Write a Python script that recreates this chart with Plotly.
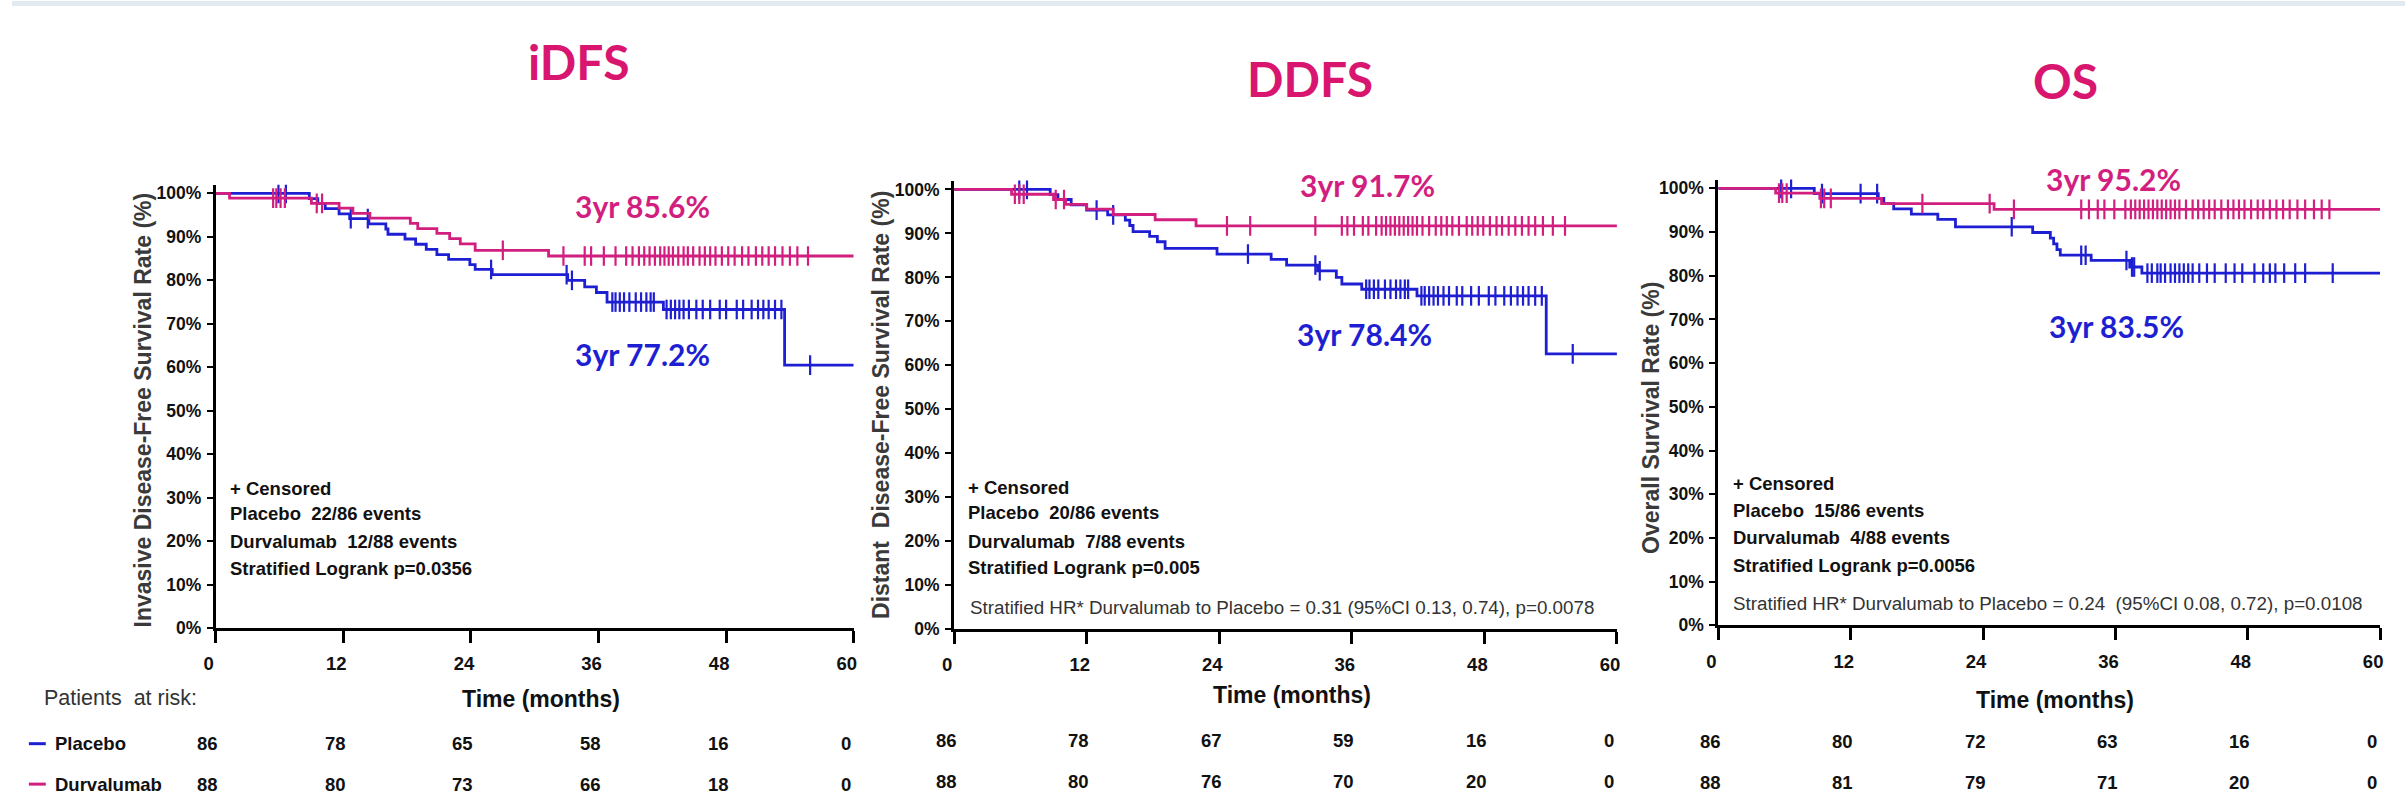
import plotly.graph_objects as go

W, H = 2408, 803
BLUE = "#1e1ed2"
PINK = "#d21f7f"
TITLE_PINK = "#d8166f"
NARROW = "Liberation Sans, Arial, sans-serif"
ARIAL = "Liberation Sans, Arial, sans-serif"
CAL = "Lato, Carlito, Calibri, sans-serif"

# ---------------- data ----------------
panel_titles = ["iDFS", "DDFS", "OS"]
y_titles = ["Invasive Disease-Free Survival Rate (%)",
            "Distant  Disease-Free Survival Rate (%)",
            "Overall Survival Rate (%)"]
x_ticks = [0, 12, 24, 36, 48, 60]
y_ticks = [0, 10, 20, 30, 40, 50, 60, 70, 80, 90, 100]

# iDFS
idfs_pla_t = [0, 8.8, 9.6, 10.3, 11.6, 12.6, 14.4, 16.0, 16.2, 17.8, 18.8, 19.8, 20.8, 21.9, 23.9, 24.4, 26.0, 33.1, 34.7, 35.8, 36.8, 42.1, 53.5]
idfs_pla_s = [100, 98.8, 97.7, 96.5, 95.3, 94.2, 93.0, 91.8, 90.6, 89.5, 88.3, 87.1, 85.9, 84.8, 83.6, 82.5, 81.3, 80.0, 78.5, 77.2, 75.0, 73.3, 60.5]
idfs_dur_t = [0, 1.3, 9.0, 11.6, 12.9, 14.5, 18.3, 19.0, 20.8, 22.0, 23.0, 24.4, 31.3]
idfs_dur_s = [100, 98.9, 97.7, 96.6, 95.4, 94.3, 93.1, 91.9, 90.8, 89.6, 88.4, 86.9, 85.6]
idfs_pla_cens = [5.9, 6.6, 12.7, 14.3, 25.9, 33.0, 33.5, 37.3, 37.6, 38.0, 38.4, 38.9, 39.5, 40.0, 40.5, 40.9, 41.2,
                 42.4, 42.8, 43.2, 43.6, 44.0, 44.5, 45.2, 45.8, 46.5, 47.4, 48.0, 49.0, 49.6, 50.4, 51.0, 51.5,
                 52.0, 52.6, 53.2, 55.9]
idfs_dur_cens = [5.4, 5.7, 6.1, 6.5, 9.5, 10.0, 27.0, 32.7, 34.7, 35.3, 36.5, 37.6, 38.6, 39.2, 39.8, 40.3, 40.8,
                 41.3, 41.8, 42.2, 42.6, 43.0, 43.5, 44.0, 44.4, 44.9, 45.5, 46.0, 46.5, 47.0, 47.6, 48.2, 48.8,
                 49.5, 50.1, 50.8, 51.4, 52.0, 52.6, 53.3, 54.0, 54.7, 55.7]

# DDFS
ddfs_pla_t = [0, 8.7, 9.4, 10.6, 12.0, 13.9, 15.5, 15.9, 16.2, 17.7, 18.4, 19.1, 23.8, 28.7, 30.1, 32.9, 34.6, 35.1, 36.9, 41.9, 53.6]
ddfs_pla_s = [100, 98.8, 97.7, 96.5, 95.3, 94.2, 93.0, 91.8, 90.4, 89.3, 88.1, 86.6, 85.3, 84.1, 82.8, 81.5, 80.0, 78.5, 77.3, 75.8, 62.6]
ddfs_dur_t = [0, 5.2, 9.0, 10.1, 12.0, 14.4, 18.2, 21.9]
ddfs_dur_s = [100, 98.9, 97.7, 96.6, 95.5, 94.3, 93.1, 91.7]
ddfs_pla_cens = [5.9, 6.6, 12.9, 14.4, 26.6, 32.7, 33.1, 37.3, 37.6, 38.0, 38.4, 39.0, 39.5, 40.0, 40.4, 40.8, 41.1,
                 42.3, 42.6, 43.0, 43.4, 43.8, 44.3, 44.8, 45.5, 46.0, 46.8, 47.5, 48.4, 49.0, 49.8, 50.4, 51.0,
                 51.5, 52.0, 52.6, 53.2, 56.0]
ddfs_dur_cens = [5.5, 5.9, 6.3, 9.2, 9.95, 24.7, 26.8, 32.7, 35.1, 35.6, 36.2, 37.0, 37.5, 38.2, 38.7, 39.1, 39.5,
                 39.9, 40.3, 40.7, 41.1, 41.5, 41.9, 42.4, 43.0, 43.6, 44.1, 44.6, 45.1, 45.7, 46.4, 46.9, 47.4,
                 47.9, 48.5, 49.1, 49.6, 50.2, 50.8, 51.4, 52.0, 52.6, 53.3, 54.2, 55.3]

# OS
os_pla_t = [0, 8.7, 14.5, 15.0, 15.9, 17.5, 19.9, 21.5, 28.5, 30.1, 30.4, 30.7, 31.0, 33.8, 37.3, 38.4]
os_pla_s = [100, 98.8, 97.7, 96.5, 95.3, 94.1, 92.9, 91.2, 89.9, 88.6, 87.3, 86.0, 84.7, 83.5, 82.0, 80.6]
os_dur_t = [0, 5.2, 9.2, 14.8, 25.0]
os_dur_s = [100, 98.9, 97.7, 96.5, 95.2]
os_pla_cens = [5.7, 6.6, 9.4, 12.9, 14.4, 26.6, 32.9, 33.3, 37.0, 37.5, 37.7, 38.9, 39.3, 39.8, 40.1, 40.5, 41.0,
               41.4, 41.8, 42.2, 42.6, 43.0, 43.6, 44.3, 45.0, 46.0, 46.8, 47.5, 48.6, 49.4, 50.0, 50.5, 51.3,
               52.3, 53.2, 55.7]
os_dur_cens = [5.5, 5.8, 6.2, 9.3, 9.6, 10.2, 18.5, 24.6, 26.8, 32.9, 33.6, 34.4, 35.0, 35.9, 36.9, 37.4, 37.8,
               38.2, 38.6, 39.0, 39.4, 39.8, 40.2, 40.6, 41.0, 41.4, 41.8, 42.4, 43.0, 43.5, 44.0, 44.5, 45.0,
               45.6, 46.2, 46.7, 47.2, 47.7, 48.3, 48.9, 49.4, 50.0, 50.6, 51.2, 51.8, 52.5, 53.2, 54.0, 54.7, 55.4]

three_yr_dur = ["3yr 85.6%", "3yr 91.7%", "3yr 95.2%"]
three_yr_pla = ["3yr 77.2%", "3yr 78.4%", "3yr 83.5%"]

stats_lines = [
    ["+ Censored", "Placebo  22/86 events", "Durvalumab  12/88 events", "Stratified Logrank p=0.0356"],
    ["+ Censored", "Placebo  20/86 events", "Durvalumab  7/88 events", "Stratified Logrank p=0.005"],
    ["+ Censored", "Placebo  15/86 events", "Durvalumab  4/88 events", "Stratified Logrank p=0.0056"],
]
hr_lines = [None,
            "Stratified HR* Durvalumab to Placebo = 0.31 (95%CI 0.13, 0.74), p=0.0078",
            "Stratified HR* Durvalumab to Placebo = 0.24&nbsp; (95%CI 0.08, 0.72), p=0.0108"]

risk_times = [0, 12, 24, 36, 48, 60]
idfs_pla_risk = [86, 78, 65, 58, 16, 0]
idfs_dur_risk = [88, 80, 73, 66, 18, 0]
ddfs_pla_risk = [86, 78, 67, 59, 16, 0]
ddfs_dur_risk = [88, 80, 76, 70, 20, 0]
os_pla_risk = [86, 80, 72, 63, 16, 0]
os_dur_risk = [88, 81, 79, 71, 20, 0]

series = [
    (idfs_pla_t, idfs_pla_s, idfs_pla_cens, idfs_dur_t, idfs_dur_s, idfs_dur_cens, idfs_pla_risk, idfs_dur_risk),
    (ddfs_pla_t, ddfs_pla_s, ddfs_pla_cens, ddfs_dur_t, ddfs_dur_s, ddfs_dur_cens, ddfs_pla_risk, ddfs_dur_risk),
    (os_pla_t, os_pla_s, os_pla_cens, os_dur_t, os_dur_s, os_dur_cens, os_pla_risk, os_dur_risk),
]

# ---------------- layout geometry (pixels) ----------------
ax_x = [(205, 847), (948, 1615), (1717, 2383)]
ax_y = [(636, 186.2), (637, 182.1), (633, 181.1)]  # y pixel of 0% and 102%
title_pos = [(570, 61), (1306, 79), (2066, 81)]
dur_lab_pos = [(634, 208), (1364, 187), (2115, 180)]
pla_lab_pos = [(634, 358), (1361, 338), (2118, 330)]
stats_pos = [(217, [494, 520, 548, 575]), (960, [493, 519, 548, 574]), (1730, [489, 517, 544, 572])]
hr_pos = [None, (962, 615), (1730, 611)]
ytitle_pos = [(132, 415), (875, 410), (1649, 423)]
xtitle_pos = [(532, 708), (1288, 704), (2056, 709)]
risk_rows_y = [(753, 794), (750, 791), (751, 792)]


def px(x):
    return x / W


def py(y):
    return 1 - y / H


def step_at(times, levels, t):
    v = levels[0]
    for ti, li in zip(times, levels):
        if ti <= t:
            v = li
    return v


fig = go.Figure()
annotations = []
shapes = []

for i in range(3):
    sfx = "" if i == 0 else str(i + 1)
    xr, yr = "x" + sfx, "y" + sfx
    pt, ps, pc, dt, ds, dc, prisk, drisk = series[i]
    for (tt, ss, cc, col) in [(pt, ps, pc, BLUE), (dt, ds, dc, PINK)]:
        fig.add_trace(go.Scatter(
            x=list(tt) + [60], y=list(ss) + [ss[-1]], mode="lines",
            line=dict(shape="hv", color=col, width=2.8),
            xaxis=xr, yaxis=yr, showlegend=False, hoverinfo="skip"))
        fig.add_trace(go.Scatter(
            x=cc, y=[step_at(tt, ss, c) for c in cc], mode="markers",
            marker=dict(symbol="line-ns", size=14, line=dict(width=2.2, color=col)),
            xaxis=xr, yaxis=yr, showlegend=False, hoverinfo="skip"))

    x0, x1 = ax_x[i]
    y0, y1 = ax_y[i]
    fig.layout["xaxis" + sfx] = dict(
        domain=[px(x0), px(x1)], range=[0, 60], anchor=yr,
        tickvals=x_ticks, ticktext=[str(v) for v in x_ticks],
        showline=True, linecolor="black", linewidth=3, mirror=False,
        ticks="outside", ticklen=12, tickwidth=2.5, tickcolor="black",
        tickfont=dict(family=NARROW, size=18.5, color="#111", weight=700),
        ticklabelshift=-7, ticklabelstandoff=5,
        showgrid=False, zeroline=False, fixedrange=True)
    fig.layout["yaxis" + sfx] = dict(
        domain=[py(y0), py(y1)], range=[0, 102], anchor=xr,
        tickvals=y_ticks, ticktext=[f"{v}%" for v in y_ticks],
        showline=True, linecolor="black", linewidth=3,
        ticks="outside", ticklen=6, tickwidth=2, tickcolor="black",
        tickfont=dict(family=NARROW, size=17.5, color="#111", weight=700),
        ticklabelstandoff=2,
        showgrid=False, zeroline=False, fixedrange=True)

    # panel title
    annotations.append(dict(x=px(title_pos[i][0]), y=py(title_pos[i][1]), xref="paper", yref="paper",
                            text=panel_titles[i], showarrow=False, xanchor="center", yanchor="middle",
                            font=dict(family=CAL, size=48, color=TITLE_PINK, weight=700)))
    # 3yr labels
    annotations.append(dict(x=px(dur_lab_pos[i][0]), y=py(dur_lab_pos[i][1]), xref="paper", yref="paper",
                            text=three_yr_dur[i], showarrow=False, xanchor="center", yanchor="middle",
                            font=dict(family=CAL, size=30, color=PINK, weight=700)))
    annotations.append(dict(x=px(pla_lab_pos[i][0]), y=py(pla_lab_pos[i][1]), xref="paper", yref="paper",
                            text=three_yr_pla[i], showarrow=False, xanchor="center", yanchor="middle",
                            font=dict(family=CAL, size=30, color=BLUE, weight=700)))
    # stats text
    sx, sys_ = stats_pos[i]
    for line, yy in zip(stats_lines[i], sys_):
        annotations.append(dict(x=px(sx), y=py(yy), xref="paper", yref="paper", text=line,
                                showarrow=False, xanchor="left", yanchor="middle",
                                font=dict(family=NARROW, size=18.5, color="#111", weight=700)))
    if hr_lines[i]:
        annotations.append(dict(x=px(hr_pos[i][0]), y=py(hr_pos[i][1]), xref="paper", yref="paper",
                                text=hr_lines[i], showarrow=False, xanchor="left", yanchor="middle",
                                font=dict(family=NARROW, size=18.8, color="#333")))
    # axis titles
    annotations.append(dict(x=px(ytitle_pos[i][0]), y=py(ytitle_pos[i][1]), xref="paper", yref="paper",
                            text=y_titles[i].replace("  ", "&nbsp; "), showarrow=False, textangle=-90,
                            xanchor="center", yanchor="middle",
                            font=dict(family=ARIAL, size=23, color="#3a3a3a", weight=700)))
    annotations.append(dict(x=px(xtitle_pos[i][0]), y=py(xtitle_pos[i][1]), xref="paper", yref="paper",
                            text="Time (months)", showarrow=False, xanchor="center", yanchor="middle",
                            font=dict(family=NARROW, size=23, color="#111", weight=700)))
    # risk table numbers
    for row, yy in zip((prisk, drisk), risk_rows_y[i]):
        for t, n in zip(risk_times, row):
            annotations.append(dict(x=t, y=py(yy), xref=xr, yref="paper", text=str(n),
                                    showarrow=False, xanchor="center", yanchor="middle", xshift=-8,
                                    font=dict(family=NARROW, size=18.5, color="#111", weight=700)))

# risk table labels
annotations.append(dict(x=px(30), y=py(707), xref="paper", yref="paper", text="Patients&nbsp; at risk:",
                        showarrow=False, xanchor="left", yanchor="middle",
                        font=dict(family=NARROW, size=21.5, color="#333")))
annotations.append(dict(x=px(41), y=py(753), xref="paper", yref="paper", text="Placebo",
                        showarrow=False, xanchor="left", yanchor="middle",
                        font=dict(family=NARROW, size=18.5, color="#111", weight=700)))
annotations.append(dict(x=px(41), y=py(794), xref="paper", yref="paper", text="Durvalumab",
                        showarrow=False, xanchor="left", yanchor="middle",
                        font=dict(family=NARROW, size=18.5, color="#111", weight=700)))
shapes.append(dict(type="line", xref="paper", yref="paper", x0=px(17), x1=px(34), y0=py(753), y1=py(753),
                   line=dict(color=BLUE, width=3)))
shapes.append(dict(type="line", xref="paper", yref="paper", x0=px(17), x1=px(34), y0=py(794), y1=py(794),
                   line=dict(color=PINK, width=3)))
# top band
shapes.append(dict(type="rect", xref="paper", yref="paper", x0=0, x1=1, y0=py(5), y1=1,
                   fillcolor="#e1e9f1", line=dict(width=0), layer="below"))

fig.update_layout(width=W, height=H, margin=dict(l=0, r=0, t=0, b=0),
                  paper_bgcolor="white", plot_bgcolor="white",
                  annotations=annotations, shapes=shapes, showlegend=False)

fig.write_html("out.html", config={"displayModeBar": False})
